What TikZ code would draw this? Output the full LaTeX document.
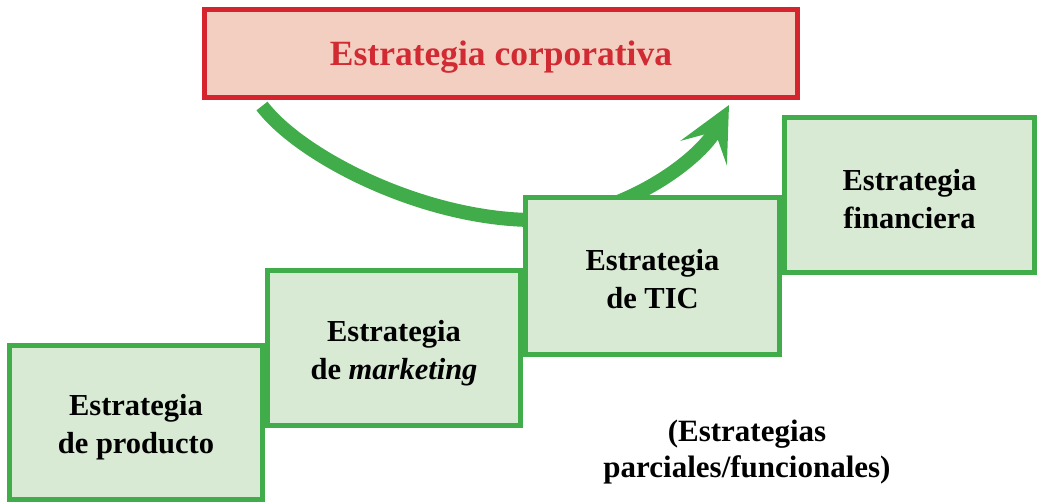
\documentclass[tikz,border=0pt]{standalone}
\usepackage{fontspec}
\setmainfont{Liberation Serif}
\usetikzlibrary{arrows.meta}
\definecolor{gborder}{HTML}{41AD4A}
\definecolor{gfill}{HTML}{D8E9D4}
\definecolor{rborder}{HTML}{D5242D}
\definecolor{rfill}{HTML}{F3CFC2}
\definecolor{rtext}{HTML}{D12A33}
\tikzset{
  greenbox/.style={draw=gborder, fill=gfill, line width=5pt, rectangle, inner sep=0pt},
  boxtext/.style={align=center, font=\fontsize{30.5}{38}\selectfont\bfseries, inner sep=0pt},
  corpbox/.style={draw=rborder, fill=rfill, line width=5pt, rectangle, inner sep=0pt},
  corptext/.style={font=\fontsize{35.5}{42}\selectfont\bfseries, text=rtext, inner sep=0pt},
  bigarrow/.style={draw=gborder, line width=14pt, -{Stealth[length=54pt,width=52pt,inset=24pt]}},
  note/.style={align=center, font=\fontsize{31}{36}\selectfont\bfseries, inner sep=0pt}
}
\begin{document}
\begin{tikzpicture}[x=1pt,y=-1pt]
\useasboundingbox (0,0) rectangle (1037,502);
\node[corpbox, minimum width=593pt, minimum height=88pt] (corp) at (501,53.5) {};
\node[corptext] (corpt) at ([yshift=-4pt]corp.center) {Estrategia corporativa};
\coordinate (s) at (262,106);
\coordinate (m) at (530,220);
\coordinate (e) at (729,105);
\draw[bigarrow] (s) .. controls (300,156) and (420,218) .. (m)
  .. controls (620,220) and (700,160) .. (e);
\node[greenbox, minimum width=253pt, minimum height=154pt] (prod) at (136,422.5) {};
\node[greenbox, minimum width=253pt, minimum height=155pt] (mkt) at (394,348) {};
\node[greenbox, minimum width=254pt, minimum height=157pt] (tic) at (652.5,276) {};
\node[greenbox, minimum width=250pt, minimum height=155pt] (fin) at (909.5,195) {};
\node[boxtext] (prodt) at ([yshift=-5pt]prod.center) {Estrategia\\de producto};
\node[boxtext] (mktt) at ([yshift=-5pt]mkt.center) {Estrategia\\de \textit{marketing}};
\node[boxtext] (tict) at ([yshift=-3pt]tic.center) {Estrategia\\de TIC};
\node[boxtext] (fint) at ([yshift=-4pt]fin.center) {Estrategia\\financiera};
\node[note] (par) at (747,452) {(Estrategias\\parciales/funcionales)};
\end{tikzpicture}
\end{document}
